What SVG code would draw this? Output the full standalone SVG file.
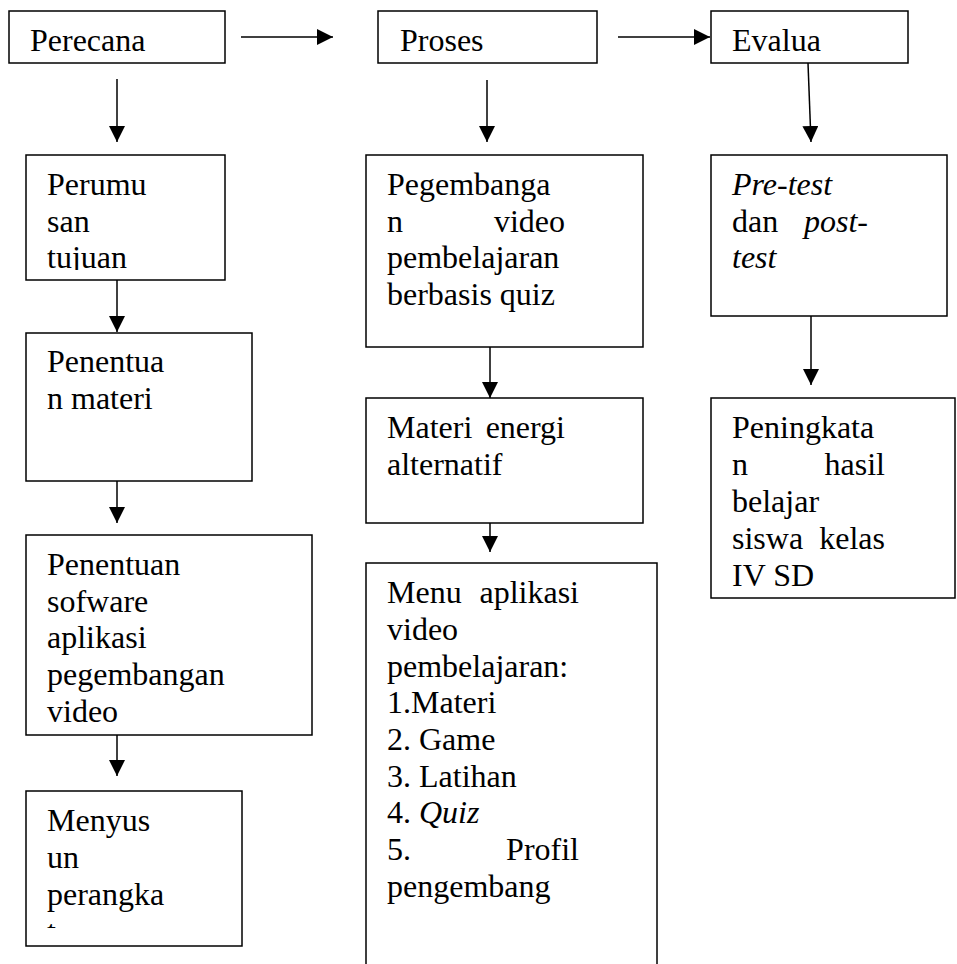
<svg xmlns="http://www.w3.org/2000/svg" width="957" height="964" viewBox="0 0 957 964">
<style>
.box{fill:#fff;stroke:#000;stroke-width:1.5}
.t{font-family:'Liberation Serif',Tinos,'Times New Roman','DejaVu Serif',serif;font-size:32px;fill:#000}
.i{font-style:italic}
.e{text-anchor:end}
.c{stroke:#000;stroke-width:1.5;fill:none;marker-end:url(#ah)}
</style>
<defs>
<marker id="ah" markerUnits="userSpaceOnUse" markerWidth="16" markerHeight="16" refX="16" refY="8" orient="auto">
<path d="M0,0 L16,8 L0,16 z" fill="#000"/>
</marker>
<clipPath id="clipA"><rect x="26" y="155" width="199" height="115"/></clipPath>
<clipPath id="clipB"><rect x="26" y="791" width="216" height="137"/></clipPath>
</defs>
<g id="connectors">
<line class="c" x1="241" y1="37" x2="333" y2="37"/>
<line class="c" x1="618" y1="37" x2="710" y2="37"/>
<line class="c" x1="117" y1="79" x2="117" y2="142"/>
<line class="c" x1="487" y1="80" x2="487" y2="142"/>
<line class="c" x1="808" y1="63" x2="811" y2="142"/>
<line class="c" x1="117" y1="280" x2="117" y2="332"/>
<line class="c" x1="117" y1="481" x2="117" y2="523"/>
<line class="c" x1="117" y1="735" x2="117" y2="776"/>
<line class="c" x1="490" y1="347" x2="490" y2="398"/>
<line class="c" x1="490" y1="523" x2="490" y2="552"/>
<line class="c" x1="811" y1="316" x2="811" y2="385"/>
</g>
<g id="perecana">
<rect class="box" x="9" y="11" width="216" height="52"/>
<text class="t" x="30" y="51">Perecana</text>
</g>
<g id="proses">
<rect class="box" x="378" y="11" width="219" height="52"/>
<text class="t" x="400" y="51">Proses</text>
</g>
<g id="evalua">
<rect class="box" x="711" y="11" width="197" height="52"/>
<text class="t" x="732" y="51">Evalua</text>
</g>
<g id="perumusan">
<rect class="box" x="26" y="155" width="199" height="125"/>
<g clip-path="url(#clipA)">
<text class="t" x="47" y="195">Perumu</text>
<text class="t" x="47" y="232">san</text>
<text class="t" x="47" y="268">tujuan</text>
</g>
</g>
<g id="penentuan-materi">
<rect class="box" x="26" y="333" width="226" height="148"/>
<text class="t" x="47" y="372">Penentua</text>
<text class="t" x="47" y="409">n materi</text>
</g>
<g id="penentuan-sofware">
<rect class="box" x="26" y="535" width="286" height="200"/>
<text class="t" x="47" y="575">Penentuan</text>
<text class="t" x="47" y="612">sofware</text>
<text class="t" x="47" y="648">aplikasi</text>
<text class="t" x="47" y="685">pegembangan</text>
<text class="t" x="47" y="722">video</text>
</g>
<g id="menyusun">
<rect class="box" x="26" y="791" width="216" height="155"/>
<g clip-path="url(#clipB)">
<text class="t" x="47" y="831">Menyus</text>
<text class="t" x="47" y="868">un</text>
<text class="t" x="47" y="905">perangka</text>
<text class="t" x="47" y="942">t</text>
</g>
</g>
<g id="pegembangan">
<rect class="box" x="366" y="155" width="277" height="192"/>
<text class="t" x="387" y="195">Pegembanga</text>
<text class="t" x="387" y="232">n</text>
<text class="t e" x="565" y="232">video</text>
<text class="t" x="387" y="268">pembelajaran</text>
<text class="t" x="387" y="305">berbasis quiz</text>
</g>
<g id="materi">
<rect class="box" x="366" y="398" width="277" height="125"/>
<text class="t" x="387" y="438">Materi</text>
<text class="t e" x="565" y="438">energi</text>
<text class="t" x="387" y="475">alternatif</text>
</g>
<g id="menu">
<rect class="box" x="366" y="563" width="291" height="420"/>
<text class="t" x="387" y="603">Menu</text>
<text class="t e" x="579" y="603">aplikasi</text>
<text class="t" x="387" y="640">video</text>
<text class="t" x="387" y="677">pembelajaran:</text>
<text class="t" x="387" y="713">1.Materi</text>
<text class="t" x="387" y="750">2. Game</text>
<text class="t" x="387" y="787">3. Latihan</text>
<text class="t" x="387" y="823">4. <tspan class="i">Quiz</tspan></text>
<text class="t" x="387" y="860">5.</text>
<text class="t e" x="579" y="860">Profil</text>
<text class="t" x="387" y="897">pengembang</text>
</g>
<g id="pretest">
<rect class="box" x="711" y="155" width="236" height="161"/>
<text class="t i" x="732" y="195">Pre-test</text>
<text class="t" x="732" y="232">dan</text>
<text class="t i e" x="868" y="232">post-</text>
<text class="t i" x="732" y="268">test</text>
</g>
<g id="peningkatan">
<rect class="box" x="711" y="398" width="244" height="200"/>
<text class="t" x="732" y="438">Peningkata</text>
<text class="t" x="732" y="475">n</text>
<text class="t e" x="885" y="475">hasil</text>
<text class="t" x="732" y="512">belajar</text>
<text class="t" x="732" y="549">siswa</text>
<text class="t e" x="885" y="549">kelas</text>
<text class="t" x="732" y="586">IV SD</text>
</g>
</svg>
